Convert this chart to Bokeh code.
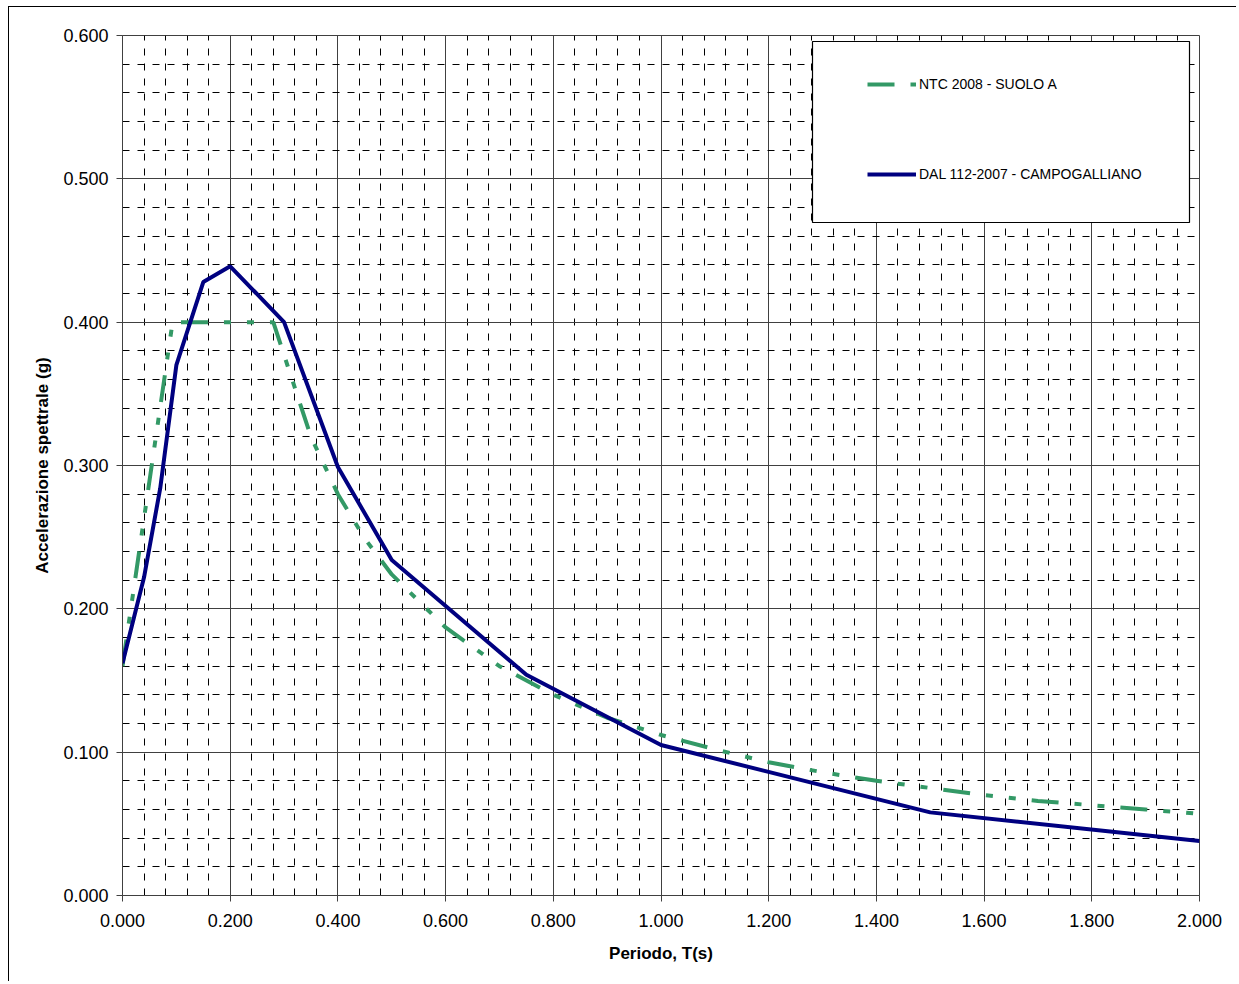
from bokeh.plotting import figure
from bokeh.models import (Range1d, FixedTicker, NumeralTickFormatter,
                          Legend, LegendItem, BoxAnnotation)
from bokeh.embed import file_html
from bokeh.resources import INLINE

# ---------------- data ----------------
ntc_label = "NTC 2008 - SUOLO A"
ntc_T = [0.0, 0.093, 0.28, 0.35, 0.40, 0.45, 0.50, 0.60, 0.70, 0.80, 0.90, 1.00,
         1.10, 1.20, 1.30, 1.40, 1.50, 1.60, 1.70, 1.80, 1.90, 2.00]
ntc_Sa = [0.160, 0.400, 0.400, 0.320, 0.280, 0.249, 0.224, 0.187, 0.160, 0.140, 0.124, 0.112,
          0.102, 0.093, 0.086, 0.080, 0.075, 0.070, 0.066, 0.063, 0.060, 0.057]

dal_label = "DAL 112-2007 - CAMPOGALLIANO"
dal_T = [0.0, 0.04, 0.07, 0.10, 0.15, 0.20, 0.30, 0.40, 0.50, 0.75, 1.00, 1.50, 2.00]
dal_Sa = [0.162, 0.222, 0.284, 0.370, 0.428, 0.439, 0.400, 0.299, 0.234, 0.154, 0.105, 0.058, 0.038]

x_ticks = [0.0, 0.2, 0.4, 0.6, 0.8, 1.0, 1.2, 1.4, 1.6, 1.8, 2.0]
y_ticks = [0.0, 0.1, 0.2, 0.3, 0.4, 0.5, 0.6]

x_title = "Periodo, T(s)"
y_title = "Accelerazione spettrale (g)"

# ---------------- figure ----------------
FONT = "Liberation Sans"
X0, X1, Y0, Y1 = 0.0, 2.0, 0.0, 0.6

p = figure(width=1228, height=975, output_backend="svg", toolbar_location=None,
           x_range=Range1d(X0, X1), y_range=Range1d(Y0, Y1),
           min_border_left=113, min_border_right=38, min_border_top=28, min_border_bottom=87,
           background_fill_color="white", border_fill_color="white")
p.styles = {"border-top": "1px solid #000", "border-left": "1px solid #000",
            "margin-left": "8px", "margin-top": "6px"}

def minors(major, n=5):
    out = []
    for a, b in zip(major[:-1], major[1:]):
        step = (b - a) / n
        out += [round(a + i * step, 6) for i in range(1, n)]
    return out

xt = FixedTicker(ticks=x_ticks, minor_ticks=minors(x_ticks))
yt = FixedTicker(ticks=y_ticks, minor_ticks=minors(y_ticks))
p.xaxis.ticker = xt
p.yaxis.ticker = yt
p.xgrid.ticker = xt
p.ygrid.ticker = yt
p.xaxis.formatter = NumeralTickFormatter(format="0.000")
p.yaxis.formatter = NumeralTickFormatter(format="0.000")

for ax in (p.xaxis, p.yaxis):
    ax.major_tick_out = 6
    ax.major_tick_in = 0
    ax.minor_tick_out = 0
    ax.minor_tick_in = 0
    ax.axis_line_color = "#404040"
    ax.major_tick_line_color = "#404040"
    ax.major_label_text_font = FONT
    ax.major_label_text_font_size = "18px"
    ax.major_label_text_color = "#000000"
    ax.axis_label_text_font = FONT
    ax.axis_label_text_font_size = "17px"
    ax.axis_label_text_font_style = "bold"
    ax.axis_label_text_color = "#000000"
p.xaxis.major_label_standoff = 12
p.xaxis.axis_label_standoff = 14
p.yaxis.major_label_standoff = 8
p.yaxis.axis_label_standoff = 8
p.xaxis.axis_label = x_title
p.yaxis.axis_label = y_title

for g in (p.xgrid, p.ygrid):
    g.grid_line_color = "#404040"
    g.grid_line_width = 1
    g.minor_grid_line_color = "#000000"
    g.minor_grid_line_width = 1
    g.minor_grid_line_dash = "7 8"

p.outline_line_color = "#404040"
p.outline_line_width = 1

# ---------------- series ----------------
r_ntc = p.line(ntc_T, ntc_Sa, line_color="#339966", line_width=4,
               line_dash="27 16 7 16 7 16")
r_dal = p.line(dal_T, dal_Sa, line_color="#000080", line_width=4)

# ---------------- legend ----------------
# legend frame, positioned from the frame's pixel layout (frame: 1077 x 860 px)
FW, FH = 1077.0, 860.0
def sx(px):  # px from frame left -> data x
    return X0 + px / FW * (X1 - X0)
def sy(px):  # px from frame bottom -> data y
    return Y0 + px / FH * (Y1 - Y0)

box = BoxAnnotation(left=sx(690), right=sx(1067), top=sy(854), bottom=sy(673),
                    fill_color="white", fill_alpha=1.0,
                    line_color="#000000", line_alpha=1.0, line_width=1.2,
                    level="annotation")
p.add_layout(box)

legend = Legend(items=[LegendItem(label=ntc_label, renderers=[r_ntc]),
                       LegendItem(label=dal_label, renderers=[r_dal])],
                location=(745, 711), orientation="vertical",
                padding=0, margin=0, spacing=70,
                glyph_width=49, glyph_height=20, label_height=20, label_standoff=3,
                label_text_font=FONT, label_text_font_size="14px",
                label_text_color="#000000",
                border_line_alpha=0, background_fill_alpha=0)
p.add_layout(legend)

open("out.html", "w").write(file_html(p, INLINE))
